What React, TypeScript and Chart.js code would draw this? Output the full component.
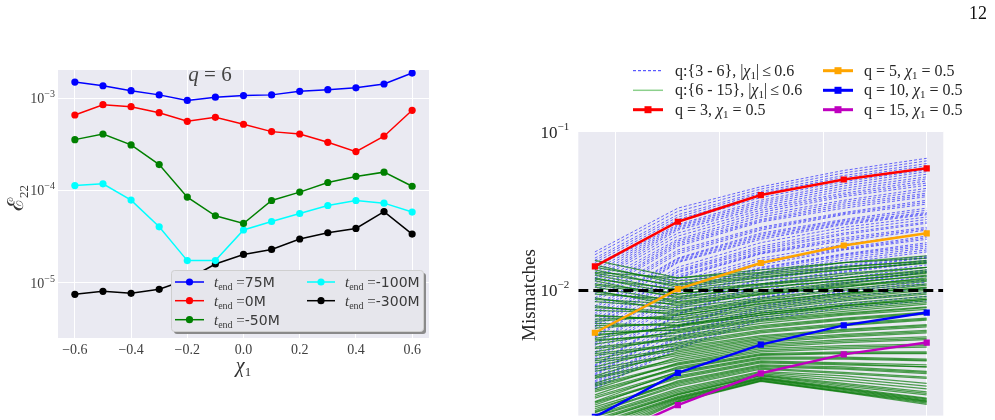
import React, { useEffect, useRef } from "react";
import { Chart, registerables } from "chart.js";
Chart.register(...registerables);

// ---------- Left panel data (q = 6) ----------
const chi1 = [-0.6, -0.5, -0.4, -0.3, -0.2, -0.1, 0.0, 0.1, 0.2, 0.3, 0.4, 0.5, 0.6];
const err75M = [1.5e-3, 1.37e-3, 1.21e-3, 1.09e-3, 0.95e-3, 1.03e-3, 1.07e-3, 1.09e-3, 1.19e-3, 1.24e-3, 1.3e-3, 1.43e-3, 1.88e-3];
const err0M = [6.59e-4, 8.53e-4, 8.11e-4, 6.98e-4, 5.63e-4, 6.22e-4, 5.23e-4, 4.35e-4, 4.1e-4, 3.33e-4, 2.64e-4, 3.88e-4, 7.41e-4];
const errM50M = [3.56e-4, 4.1e-4, 3.12e-4, 1.91e-4, 8.46e-5, 5.31e-5, 4.38e-5, 7.78e-5, 9.59e-5, 1.22e-4, 1.42e-4, 1.58e-4, 1.11e-4];
const errM100M = [1.13e-4, 1.18e-4, 7.85e-5, 4.03e-5, 1.73e-5, 1.73e-5, 3.72e-5, 4.6e-5, 5.62e-5, 6.86e-5, 7.78e-5, 7.28e-5, 5.82e-5];
const errM300M = [7.45e-6, 8.02e-6, 7.63e-6, 8.44e-6, 1.08e-5, 1.59e-5, 2.02e-5, 2.29e-5, 2.97e-5, 3.47e-5, 3.87e-5, 5.9e-5, 3.36e-5];
const leftLegendLabels = ["75M", "0M", "-50M", "-100M", "-300M"];
const leftXTicks = [-0.6, -0.4, -0.2, 0.0, 0.2, 0.4, 0.6];
const leftXTickLabels = ["\u22120.6", "\u22120.4", "\u22120.2", "0.0", "0.2", "0.4", "0.6"];
const leftYTicks = [1e-3, 1e-4, 1e-5];
const leftYTickExps = ["\u22123", "\u22124", "\u22125"];
const leftXRange = [-0.66, 0.66];
const leftYRange = [2.5e-6, 2.03e-3];

// ---------- Right panel data ----------
const rightX = [0.2, 0.4, 0.6, 0.8, 1.0];
const rightXGrid = [0.25, 0.5, 0.75, 1.0];
const rightXRange = [0.16, 1.04];
const rightYRange = [1.63e-3, 0.1];
const rightYTicks = [1e-1, 1e-2];
const rightYTickExps = ["\u22121", "\u22122"];
const mismatchThreshold = 0.01;
const q3Chi05 = [1.42e-2, 2.71e-2, 3.99e-2, 5.0e-2, 5.88e-2];
const q5Chi05 = [5.42e-3, 1.02e-2, 1.49e-2, 1.92e-2, 2.29e-2];
const q10Chi05 = [1.6e-3, 3.03e-3, 4.56e-3, 6.03e-3, 7.26e-3];
const q15Chi05 = [1.1e-3, 1.9e-3, 3.01e-3, 3.96e-3, 4.7e-3];

// q in {3..6}, |chi1| <= 0.6  (values in units of 1e-3)
const lowMassRunsE3: number[][] = [
  [17.5, 33, 45, 57, 68],
  [16.8, 31.5, 43.5, 55, 65.5],
  [16.0, 30, 42, 53, 63],
  [15.5, 29, 41, 51.5, 61],
  [15.0, 28, 40, 50, 59],
  [14.5, 27, 38.5, 48.5, 57.5],
  [14.0, 26, 37, 47, 56],
  [13.5, 25.5, 36, 45.5, 54],
  [13.0, 25, 35, 44, 52],
  [12.5, 24.5, 34, 42.5, 50.5],
  [12.0, 24, 33, 41, 49],
  [11.8, 23, 32, 40, 47.5],
  [11.5, 22, 31, 39, 46],
  [11.0, 21, 30, 37, 44],
  [10.5, 20.5, 29, 36, 42.5],
  [10.0, 20, 28, 35, 41],
  [9.8, 19.5, 27.5, 34, 40],
  [9.5, 19, 27, 33, 39],
  [9.0, 18, 25, 31, 37],
  [8.8, 17.5, 24.5, 30.5, 36],
  [8.5, 17, 24, 30, 35],
  [8.0, 16, 23, 28, 33],
  [7.8, 15.8, 22.5, 27.5, 32],
  [7.5, 15.5, 22, 27, 31],
  [7.2, 15.2, 21.5, 26.5, 30.5],
  [7.0, 15, 21, 26, 30],
  [6.8, 14, 20, 25, 29],
  [6.5, 13.5, 19, 24, 28],
  [6.3, 13.2, 18.5, 23, 27],
  [6.2, 13, 18, 22.5, 26.5],
  [6.0, 12.5, 17.5, 21.5, 25],
  [5.9, 12.2, 17.2, 21, 24.5],
  [5.7, 12, 17, 20.5, 24],
  [5.4, 11.5, 16, 19.5, 23],
  [5.2, 11, 15.5, 18.5, 22],
  [5.1, 10.8, 15, 18.2, 21.5],
  [5.0, 10.5, 14.5, 18, 21],
  [4.7, 10, 14, 17, 20],
  [4.6, 9.8, 13.8, 16.8, 19.5],
  [4.5, 9.5, 13.5, 16.5, 19],
  [4.3, 9, 13, 16, 18.5],
  [4.1, 8.8, 12.8, 15.5, 18],
  [4.0, 8.5, 12.5, 15, 17.5],
  [3.8, 8, 12, 14.5, 16.5],
  [3.7, 7.8, 11.8, 14.2, 16.2],
  [3.6, 7.6, 11.5, 14, 16],
  [3.4, 7.2, 11, 13.5, 15.5],
  [3.35, 7.1, 10.8, 13.2, 15.2],
  [3.3, 7.0, 10.5, 13, 15],
  [3.2, 6.6, 10, 12.5, 14.5],
  [3.1, 6.3, 9.6, 12, 14],
  [3.0, 6.0, 9.2, 11.5, 13.5],
  [2.95, 5.9, 9.0, 11.2, 13.2],
  [2.9, 5.8, 8.9, 11, 13],
  [2.8, 5.5, 8.5, 10.5, 12.3],
  [2.7, 5.2, 8.0, 10, 11.7],
  [2.65, 5.1, 7.8, 9.8, 11.3],
  [2.6, 5.0, 7.6, 9.5, 11],
  [2.55, 4.8, 7.3, 9.1, 10.3],
  [2.5, 4.6, 7.0, 8.6, 9.7],
  [2.45, 4.4, 6.7, 8.2, 9.2],
  [2.4, 4.3, 6.5, 7.8, 8.6],
];

// q in {6..15}, |chi1| <= 0.6  (values in units of 1e-3)
const highMassRunsE3: number[][] = [
  [15.5, 12, 13, 15, 16.5],
  [14.5, 11, 12.5, 14, 15.5],
  [14, 11.5, 12.8, 14.2, 15.2],
  [13.5, 10.5, 12, 13.5, 15],
  [13, 12, 13.5, 15, 16],
  [12.8, 10.8, 12.2, 13.6, 14.8],
  [12.5, 10, 11, 12.5, 14],
  [12, 9.5, 11, 12, 13.5],
  [11.8, 10.2, 11.6, 12.8, 14],
  [11.5, 9, 10.5, 11.5, 13],
  [11, 9.5, 10.8, 12, 13.2],
  [10.8, 9.2, 10.4, 11.6, 12.8],
  [10.5, 8.5, 9.8, 11, 12.5],
  [10, 8, 9.5, 10.5, 12],
  [9.8, 8.4, 9.6, 10.8, 11.8],
  [9.5, 8.8, 10, 11.2, 12.3],
  [9, 7.5, 8.8, 10, 11],
  [8.8, 8.2, 9.4, 10.6, 11.6],
  [8.5, 7.8, 9, 10.2, 11.4],
  [8, 7, 8.2, 9.2, 10.2],
  [7.8, 7.4, 8.6, 9.6, 10.4],
  [7.5, 7.2, 8.5, 9.6, 10.8],
  [7, 6.5, 7.6, 8.6, 9.5],
  [6.9, 6.6, 7.8, 8.8, 9.7],
  [6.6, 6.8, 8, 9, 10],
  [6.4, 7.0, 8.3, 9.4, 10.5],
  [6.2, 6, 7, 8, 8.8],
  [6.0, 6.1, 7.2, 8.1, 9.0],
  [5.8, 6.3, 7.4, 8.3, 9.2],
  [5.5, 5.6, 6.6, 7.4, 8.2],
  [5.3, 5.7, 6.8, 7.6, 8.4],
  [5.2, 5.9, 7, 7.8, 8.6],
  [5.0, 6.0, 7.2, 8.0, 8.8],
  [4.9, 5.2, 6.2, 7, 7.6],
  [4.8, 5.4, 6.4, 7.1, 7.8],
  [4.6, 5.5, 6.5, 7.2, 7.9],
  [4.4, 5.0, 5.9, 6.6, 7.2],
  [4.3, 4.9, 5.8, 6.5, 7.1],
  [4.1, 5.1, 6, 6.7, 7.3],
  [4.0, 4.6, 5.5, 6.1, 6.6],
  [3.9, 4.5, 5.4, 6, 6.5],
  [3.7, 4.7, 5.6, 6.2, 6.7],
  [3.6, 4.3, 5.1, 5.6, 6.0],
  [3.5, 4.2, 5, 5.5, 5.9],
  [3.3, 4.4, 5.2, 5.7, 6.1],
  [3.2, 4.0, 4.8, 5.2, 5.5],
  [3.1, 3.9, 4.7, 5.1, 5.4],
  [2.9, 4.1, 4.9, 5.3, 5.6],
  [2.85, 3.7, 4.5, 4.8, 5.0],
  [2.8, 3.6, 4.4, 4.7, 4.9],
  [2.6, 3.8, 4.6, 4.9, 5.1],
  [2.55, 3.45, 4.2, 4.4, 4.5],
  [2.5, 3.4, 4.1, 4.3, 4.4],
  [2.4, 3.5, 4.3, 4.5, 4.6],
  [2.35, 3.25, 3.95, 4.05, 4.05],
  [2.3, 3.2, 3.9, 4.0, 4.0],
  [2.2, 3.3, 4.0, 4.1, 4.1],
  [2.15, 3.05, 3.75, 3.75, 3.65],
  [2.1, 3.0, 3.7, 3.7, 3.6],
  [2.0, 3.1, 3.8, 3.8, 3.7],
  [1.98, 2.85, 3.55, 3.45, 3.3],
  [1.95, 2.8, 3.5, 3.4, 3.3],
  [1.9, 2.9, 3.6, 3.5, 3.4],
  [1.85, 2.65, 3.35, 3.25, 3.05],
  [1.8, 2.6, 3.3, 3.2, 3.0],
  [1.75, 2.7, 3.4, 3.3, 3.1],
  [1.72, 2.55, 3.25, 3.05, 2.85],
  [1.7, 2.5, 3.2, 3.0, 2.8],
  [1.65, 2.4, 3.1, 2.9, 2.6],
  [1.62, 2.35, 3.05, 2.8, 2.5],
  [1.6, 2.3, 3.0, 2.7, 2.4],
  [1.55, 2.25, 2.95, 2.6, 2.3],
  [1.52, 2.22, 2.92, 2.55, 2.25],
  [1.5, 2.2, 2.9, 2.5, 2.2],
  [1.45, 2.15, 2.85, 2.45, 2.1],
  [1.42, 2.12, 2.82, 2.42, 2.08],
  [1.4, 2.1, 2.8, 2.4, 2.05],
  [1.35, 2.08, 2.78, 2.38, 2.02],
  [1.3, 2.05, 2.75, 2.35, 2.0],
  [1.25, 2.02, 2.72, 2.32, 1.98],
  [1.2, 2.0, 2.7, 2.3, 1.95],
  [1.15, 1.98, 2.68, 2.28, 1.92],
];

// ---------- helpers ----------
const SERIF = '"Liberation Serif", "DejaVu Serif", serif';
const SANS = '"DejaVu Sans", sans-serif';
const f = (size: number, style = "") => `${style} ${size}px ${SERIF}`.trim();

type Seg = { t: string; font: string; dy?: number };
function drawRich(ctx: CanvasRenderingContext2D, segs: Seg[], x: number, y: number, align: "left" | "center" | "right", color: string) {
  ctx.save();
  ctx.textBaseline = "alphabetic";
  ctx.textAlign = "left";
  ctx.fillStyle = color;
  let w = 0;
  for (const s of segs) {
    ctx.font = s.font;
    w += ctx.measureText(s.t).width;
  }
  let cx = align === "left" ? x : align === "center" ? x - w / 2 : x - w;
  for (const s of segs) {
    ctx.font = s.font;
    ctx.fillText(s.t, cx, y + (s.dy || 0));
    cx += ctx.measureText(s.t).width;
  }
  ctx.restore();
}

const bgPlugin = {
  id: "bgfill",
  beforeDraw(chart: any) {
    const { ctx, chartArea: a } = chart;
    ctx.save();
    ctx.fillStyle = "#EAEAF2";
    ctx.fillRect(a.left, a.top, a.right - a.left, a.bottom - a.top);
    ctx.restore();
  },
};

const fixTicks = (vals: number[], range: number[]) => (axis: any) => {
  axis.ticks = vals.map((v) => ({ value: v }));
  axis.min = range[0];
  axis.max = range[1];
};

const TICK_COLOR = "#404040";

// ---------- left chart ----------
const leftColors = ["#0000ff", "#ff0000", "#008000", "#00ffff", "#000000"];
const leftSeries = [err75M, err0M, errM50M, errM100M, errM300M];

const leftTextPlugin = {
  id: "leftText",
  afterDraw(chart: any) {
    const { ctx } = chart;
    const xs = chart.scales.x;
    const ys = chart.scales.y;
    const a = chart.chartArea;
    leftYTicks.forEach((v, i) => {
      const y = ys.getPixelForValue(v);
      drawRich(ctx, [
        { t: "10", font: f(14) },
        { t: leftYTickExps[i], font: f(10), dy: -6 },
      ], a.left - 3, y + 5, "right", TICK_COLOR);
    });
    leftXTicks.forEach((v, i) => {
      const x = xs.getPixelForValue(v);
      drawRich(ctx, [{ t: leftXTickLabels[i], font: f(14) }], x, 353.5, "center", TICK_COLOR);
    });
    drawRich(ctx, [
      { t: "\u03c7", font: f(20, "italic") },
      { t: "1", font: f(13), dy: 4 },
    ], (a.left + a.right) / 2, 372, "center", "#333");
    ctx.save();
    ctx.translate(23, 198);
    ctx.rotate(-Math.PI / 2);
    drawRich(ctx, [
      { t: "\u2130", font: f(22) },
      { t: "22", font: f(13), dy: 5 },
    ], 0, 0, "center", "#333");
    ctx.restore();
    drawRich(ctx, [
      { t: "q", font: f(21, "italic") },
      { t: " = 6", font: f(21) },
    ], 210, 81, "center", "#444");

    const bx = 171, by = 270, bw = 252, bh = 61;
    ctx.save();
    ctx.fillStyle = "#8a8a8a";
    ctx.beginPath();
    ctx.roundRect(bx + 3, by + 3, bw, bh, 3);
    ctx.fill();
    ctx.fillStyle = "#E6E6EC";
    ctx.strokeStyle = "#cfcfcf";
    ctx.lineWidth = 1;
    ctx.beginPath();
    ctx.roundRect(bx + 0.5, by + 0.5, bw, bh, 3);
    ctx.fill();
    ctx.stroke();
    ctx.restore();
    const rows = [282, 300.7, 319.7];
    const cols = [{ h0: 175, h1: 204, tx: 214 }, { h0: 307, h1: 335, tx: 345 }];
    leftLegendLabels.forEach((lab, i) => {
      const c = cols[i < 3 ? 0 : 1];
      const y = rows[i < 3 ? i : i - 3];
      ctx.save();
      ctx.strokeStyle = leftColors[i];
      ctx.lineWidth = 1.5;
      ctx.beginPath();
      ctx.moveTo(c.h0, y);
      ctx.lineTo(c.h1, y);
      ctx.stroke();
      ctx.fillStyle = leftColors[i];
      ctx.beginPath();
      ctx.arc((c.h0 + c.h1) / 2, y, 3.6, 0, Math.PI * 2);
      ctx.fill();
      ctx.restore();
      drawRich(ctx, [
        { t: "t", font: f(15, "italic") },
        { t: "end", font: f(10), dy: 3 },
        { t: " =", font: f(15) },
        { t: lab, font: `14px ${SANS}` },
      ], c.tx, y + 5, "left", "#3a3a3a");
    });
  },
};

function leftConfig(): any {
  return {
    type: "line",
    data: {
      datasets: leftSeries.map((vals, i) => ({
        label: leftLegendLabels[i],
        data: chi1.map((x, j) => ({ x, y: vals[j] })),
        borderColor: leftColors[i],
        backgroundColor: leftColors[i],
        pointBackgroundColor: leftColors[i],
        pointBorderWidth: 0,
        pointRadius: 3.6,
        borderWidth: 1.5,
        tension: 0,
        order: i,
      })),
    },
    options: {
      animation: false,
      responsive: false,
      events: [],
      layout: { padding: { left: 0, right: 11, top: 70, bottom: 0 } },
      plugins: { legend: { display: false }, tooltip: { enabled: false }, title: { display: false } },
      scales: {
        x: {
          type: "linear",
          min: leftXRange[0],
          max: leftXRange[1],
          afterBuildTicks: fixTicks(leftXTicks, leftXRange),
          afterFit: (s: any) => { s.height = 82; },
          ticks: { display: false },
          grid: { color: "#ffffff", lineWidth: 1, drawTicks: false },
          border: { display: false },
        },
        y: {
          type: "logarithmic",
          min: leftYRange[0],
          max: leftYRange[1],
          afterBuildTicks: fixTicks(leftYTicks, leftYRange),
          afterFit: (s: any) => { s.width = 58; },
          ticks: { display: false },
          grid: { color: "#ffffff", lineWidth: 1, drawTicks: false },
          border: { display: false },
        },
      },
    },
    plugins: [bgPlugin, leftTextPlugin],
  };
}

// ---------- right chart ----------
const highlight = [
  { label: "q = 3", vals: q3Chi05, color: "#ff0000" },
  { label: "q = 5", vals: q5Chi05, color: "#ffa500" },
  { label: "q = 10", vals: q10Chi05, color: "#0000ff" },
  { label: "q = 15", vals: q15Chi05, color: "#bf00bf" },
];
const LOW_COLOR = "rgba(0,0,255,0.65)";
const HIGH_COLOR = "rgba(0,120,0,0.68)";

const rightTextPlugin = {
  id: "rightText",
  afterDraw(chart: any) {
    const { ctx } = chart;
    const ys = chart.scales.y;
    const a = chart.chartArea;
    rightYTicks.forEach((v, i) => {
      const y = ys.getPixelForValue(v);
      drawRich(ctx, [
        { t: "10", font: f(17) },
        { t: rightYTickExps[i], font: f(11), dy: -8 },
      ], a.left - 9, y + 6, "right", "#262626");
    });
    ctx.save();
    ctx.translate(35, 295);
    ctx.rotate(-Math.PI / 2);
    drawRich(ctx, [{ t: "Mismatches", font: f(19) }], 0, 0, "center", "#262626");
    ctx.restore();
    drawRich(ctx, [{ t: "12", font: f(18) }], 487, 19, "right", "#111");

    const rows = [70.7, 90.3, 109.7];
    const cols = [{ h0: 133, h1: 163, tx: 175 }, { h0: 323, h1: 353, tx: 364 }];
    const fs = 16;
    const chiSegs = (pre: string, post: string): Seg[] => [
      { t: pre, font: f(fs) },
      { t: "\u03c7", font: f(fs, "italic") },
      { t: "1", font: f(11), dy: 3 },
      { t: post, font: f(fs) },
    ];
    const entries: { kind: string; color: string; segs: Seg[] }[] = [
      { kind: "dash", color: "rgba(0,0,255,0.8)", segs: chiSegs("q:{3 - 6}, |", "|\u2009\u2264\u20090.6") },
      { kind: "thin", color: "rgba(0,150,0,0.45)", segs: chiSegs("q:{6 - 15}, |", "|\u2009\u2264\u20090.6") },
      { kind: "mark", color: highlight[0].color, segs: chiSegs(highlight[0].label + ", ", " = 0.5") },
      { kind: "mark", color: highlight[1].color, segs: chiSegs(highlight[1].label + ", ", " = 0.5") },
      { kind: "mark", color: highlight[2].color, segs: chiSegs(highlight[2].label + ", ", " = 0.5") },
      { kind: "mark", color: highlight[3].color, segs: chiSegs(highlight[3].label + ", ", " = 0.5") },
    ];
    entries.forEach((e, i) => {
      const c = cols[i < 3 ? 0 : 1];
      const y = rows[i % 3];
      ctx.save();
      ctx.strokeStyle = e.color;
      if (e.kind === "dash") {
        ctx.lineWidth = 1;
        ctx.setLineDash([3, 2]);
      } else if (e.kind === "thin") {
        ctx.lineWidth = 1.5;
      } else {
        ctx.lineWidth = 3;
      }
      ctx.beginPath();
      ctx.moveTo(c.h0, y);
      ctx.lineTo(c.h1, y);
      ctx.stroke();
      if (e.kind === "mark") {
        ctx.fillStyle = e.color;
        ctx.fillRect((c.h0 + c.h1) / 2 - 3.5, y - 3.5, 7, 7);
      }
      ctx.restore();
      drawRich(ctx, e.segs, c.tx, y + 5, "left", "#262626");
    });
  },
};

function rightConfig(): any {
  const datasets: any[] = [];
  highlight.forEach((h) => {
    datasets.push({
      label: h.label,
      data: rightX.map((x, j) => ({ x, y: h.vals[j] })),
      borderColor: h.color,
      backgroundColor: h.color,
      pointBackgroundColor: h.color,
      pointBorderWidth: 0,
      pointStyle: "rect",
      pointRadius: 4.4,
      borderWidth: 2.5,
      order: 0,
    });
  });
  datasets.push({
    label: "threshold",
    data: [{ x: rightXRange[0], y: mismatchThreshold }, { x: rightXRange[1], y: mismatchThreshold }],
    borderColor: "#000000",
    borderWidth: 3,
    borderDash: [10, 5],
    pointRadius: 0,
    order: 1,
  });
  highMassRunsE3.forEach((run) => {
    datasets.push({
      data: rightX.map((x, j) => ({ x, y: run[j] / 1000 })),
      borderColor: HIGH_COLOR,
      borderWidth: 1.25,
      pointRadius: 0,
      order: 2,
    });
  });
  lowMassRunsE3.forEach((run) => {
    datasets.push({
      data: rightX.map((x, j) => ({ x, y: run[j] / 1000 })),
      borderColor: LOW_COLOR,
      borderWidth: 0.9,
      borderDash: [3, 2],
      pointRadius: 0,
      order: 3,
    });
  });
  return {
    type: "line",
    data: { datasets },
    options: {
      animation: false,
      responsive: false,
      events: [],
      layout: { padding: { left: 0, right: 51.7, top: 131.7, bottom: 0 } },
      plugins: { legend: { display: false }, tooltip: { enabled: false }, title: { display: false } },
      scales: {
        x: {
          type: "linear",
          min: rightXRange[0],
          max: rightXRange[1],
          afterBuildTicks: fixTicks(rightXGrid, rightXRange),
          afterFit: (s: any) => { s.height = 0; },
          ticks: { display: false },
          grid: { color: "#ffffff", lineWidth: 1, drawTicks: false },
          border: { display: false },
        },
        y: {
          type: "logarithmic",
          min: rightYRange[0],
          max: rightYRange[1],
          afterBuildTicks: fixTicks(rightYTicks, rightYRange),
          afterFit: (s: any) => { s.width = 78.3; },
          ticks: { display: false },
          grid: { color: "#ffffff", lineWidth: 1, drawTicks: false },
          border: { display: false },
        },
      },
    },
    plugins: [bgPlugin, rightTextPlugin],
  };
}

export default function App() {
  const leftRef = useRef<HTMLCanvasElement>(null);
  const rightRef = useRef<HTMLCanvasElement>(null);
  useEffect(() => {
    const l = new Chart(leftRef.current as HTMLCanvasElement, leftConfig());
    const r = new Chart(rightRef.current as HTMLCanvasElement, rightConfig());
    return () => {
      l.destroy();
      r.destroy();
    };
  }, []);
  return (
    <div style={{ position: "absolute", left: 0, top: 0, width: 995, height: 420, background: "#ffffff", overflow: "hidden" }}>
      <canvas ref={leftRef} width={440} height={420} style={{ position: "absolute", left: 0, top: 0, width: 440, height: 420, display: "block" }} />
      <canvas ref={rightRef} width={495} height={420} style={{ position: "absolute", left: 500, top: 0, width: 495, height: 420, display: "block" }} />
    </div>
  );
}
